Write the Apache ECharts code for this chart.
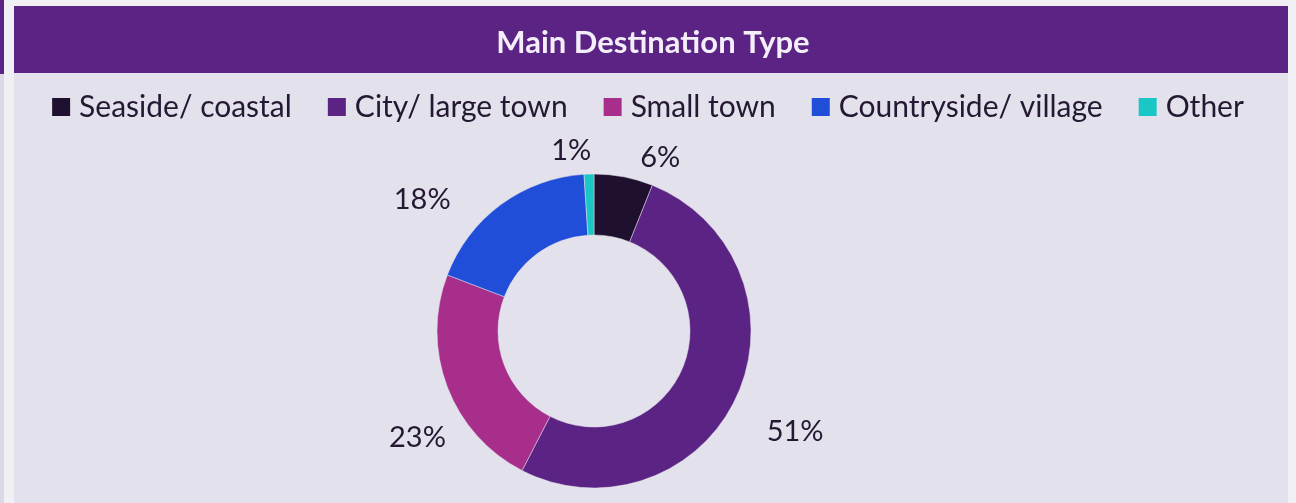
<!DOCTYPE html>
<html>
<head>
<meta charset="utf-8">
<script src="https://cdn.jsdelivr.net/npm/echarts@6/dist/echarts.min.js"></script>
<style>
html,body{margin:0;padding:0;background:#efeff4;}
#chart{width:1296px;height:503px;}
</style>
</head>
<body>
<div id="chart"></div>
<script>
const titleText = 'Main Destination Type';
const categories = ['Seaside/ coastal', 'City/ large town', 'Small town', 'Countryside/ village', 'Other'];
const values = [6, 51, 23, 18, 1];
const colors = ['#20102f', '#5b2384', '#a72e8b', '#214ed8', '#1bc6c6'];

const chart = echarts.init(document.getElementById('chart'));
const FONT = 'Lato';
// small manual nudges of the data labels (as placed in the original chart)
const labelNudge = [[3, 4], [-1, 25], [30, 42], [-27, 14], [12, 1]];
chart.setOption({
  backgroundColor: '#efeff4',
  graphic: [
    { type: 'rect', z: -10, shape: { x: 0, y: 0, width: 4, height: 74 }, style: { fill: '#5b2384' } },
    { type: 'rect', z: -10, shape: { x: 0, y: 74, width: 4, height: 429 }, style: { fill: '#dcd9e6' } },
    { type: 'rect', z: -10, shape: { x: 14, y: 6, width: 1274, height: 497 }, style: { fill: '#e3e1eb' } },
    { type: 'rect', z: -9, shape: { x: 14, y: 6, width: 1274, height: 67 }, style: { fill: '#5b2384' } }
  ],
  title: {
    text: titleText,
    left: 648,
    textAlign: 'center',
    top: 22,
    textStyle: { color: '#f3eef8', fontFamily: FONT, fontWeight: 'bold', fontSize: 31 }
  },
  legend: {
    data: categories,
    left: 'center',
    top: 87,
    icon: 'rect',
    itemWidth: 18,
    itemHeight: 18,
    itemGap: 36,
    itemStyle: { borderWidth: 0 },
    textStyle: { color: '#241832', fontFamily: FONT, fontSize: 30, padding: [0, 0, 0, 4] }
  },
  series: [{
    type: 'pie',
    center: [594, 331],
    radius: [96, 157],
    startAngle: 90,
    clockwise: true,
    avoidLabelOverlap: false,
    silent: true,
    itemStyle: { borderColor: '#e3e1eb', borderWidth: 0.5 },
    label: {
      show: true,
      position: 'outside',
      formatter: p => p.value + '%',
      color: '#241832',
      fontFamily: FONT,
      fontSize: 29
    },
    labelLine: { show: false, length: 24, length2: 4 },
    labelLayout: p => ({ dx: labelNudge[p.dataIndex][0], dy: labelNudge[p.dataIndex][1] }),
    data: categories.map((c, i) => ({ name: c, value: values[i], itemStyle: { color: colors[i] } }))
  }]
});
</script>
</body>
</html>
